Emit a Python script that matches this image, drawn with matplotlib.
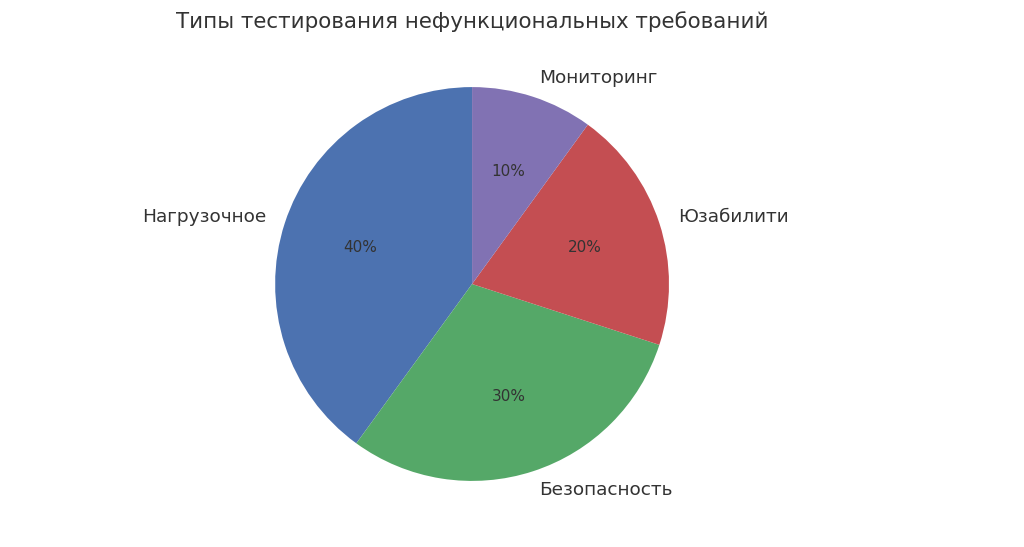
import matplotlib
matplotlib.use("Agg")
import matplotlib.pyplot as plt
import seaborn as sns

categories = ["Нагрузочное", "Безопасность", "Юзабилити", "Мониторинг"]
shares = [40, 30, 20, 10]
colors = sns.color_palette("deep")
slice_colors = [colors[0], colors[2], colors[3], colors[4]]

sns.set_theme(style="white")
plt.rcParams['font.family'] = ['DejaVu Sans']

fig = plt.figure(figsize=(10.24, 5.47), dpi=100)
ax = fig.add_axes([0.211, 0.0128, 0.5, 0.936])

ax.pie(shares, labels=categories, colors=slice_colors, autopct="%1.0f%%",
       startangle=90, counterclock=True,
       wedgeprops=dict(linewidth=0),
       textprops=dict(fontsize=13.3, color="#333333"))
for t in ax.texts:
    if t.get_text().endswith("%"):
        t.set_fontsize(11)
ax.set_xlim(-1.3, 1.3)
ax.set_ylim(-1.3, 1.3)
ax.set_aspect("equal")

fig.text(472 / 1024, 1 - 22 / 547, "Типы тестирования нефункциональных требований",
         ha="center", va="center", fontsize=15.4, color="#333333")

fig.savefig("out.png", dpi=100)
